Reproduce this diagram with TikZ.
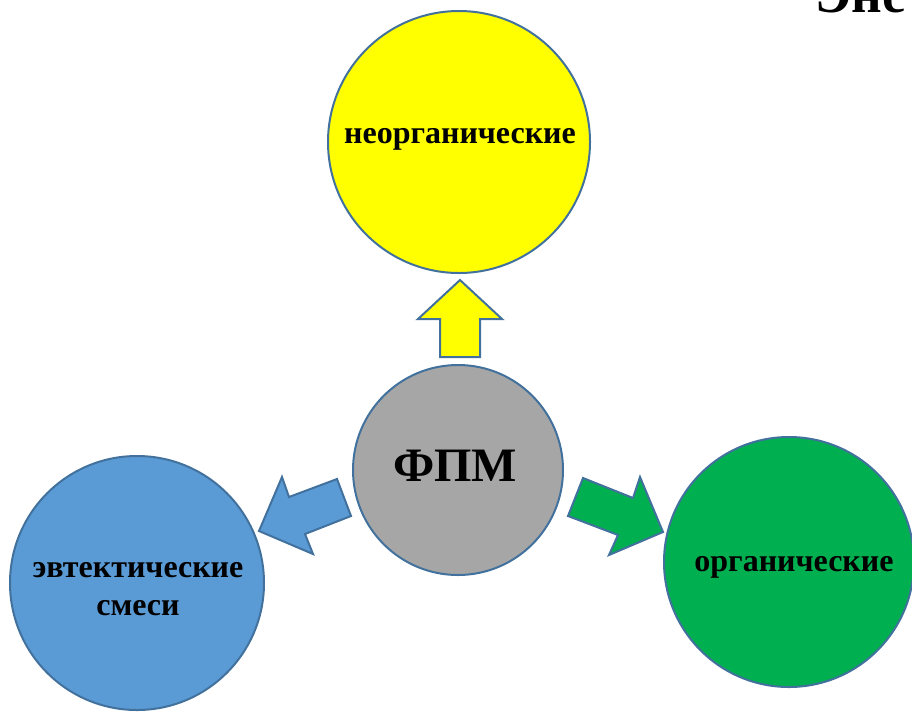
\documentclass[tikz,border=0pt]{standalone}
\usepackage{fontspec}
\setmainfont{Liberation Serif}

\tikzset{every picture/.style={line width=0.75pt}}

\begin{document}
\begin{tikzpicture}[x=0.75pt,y=0.75pt,yscale=-1,xscale=1,
    rim/.style={draw={rgb, 255:red, 65; green, 113; blue, 156 },line width=1.5pt},
    blob/.style={rim,circle,inner sep=0pt},
    lbl/.style={font=\bfseries\fontsize{24}{28.5}\selectfont,align=center,inner sep=0.75pt}]
    \useasboundingbox (0,0) rectangle (912,711);

    % Title Text (cut off at the edge)
    \node (ttl) [anchor=base west,inner sep=0pt,font=\bfseries\fontsize{40}{44}\selectfont] at (815,12) {Эне};

    %Shape: Circle
    \node (inorg) [blob,fill={rgb, 255:red, 255; green, 255; blue, 0 },minimum size=196.5pt] at (459,142) {};
    %Shape: Circle
    \node (fpm) [blob,fill={rgb, 255:red, 166; green, 166; blue, 166 },minimum size=157.5pt] at (458,470) {};
    %Shape: Circle
    \node (eut) [blob,fill={rgb, 255:red, 91; green, 155; blue, 213 },minimum size=190.5pt] at (137,583) {};
    %Shape: Circle
    \node (org) [blob,fill={rgb, 255:red, 0; green, 176; blue, 80 },minimum size=187.5pt] at (789,562) {};

    %Shape: Up Arrow
    \draw  [rim,fill={rgb, 255:red, 255; green, 255; blue, 0 }] (460,280) -- (502,319) -- (480,319) -- (480,357) -- (440,357) -- (440,319) -- (418,319) -- cycle ;
    %Shape: Left Down Arrow
    \draw  [rim,fill={rgb, 255:red, 91; green, 155; blue, 213 }] (259,531) -- (282,477) -- (289,497) -- (337,479) -- (351,516) -- (305,534) -- (313,554) -- cycle ;
    %Shape: Right Down Arrow
    \draw  [rim,fill={rgb, 255:red, 0; green, 176; blue, 80 }] (663,532) -- (609,555) -- (618,535) -- (568,516) -- (583,478) -- (633,498) -- (640,477) -- cycle ;

    % Text Node
    \node (tinorg) [lbl] at (460,139) {неорганические};
    % Text Node
    \node (tfpm) [lbl,font=\bfseries\fontsize{36}{40}\selectfont] at (455,466) {ФПМ};
    % Text Node
    \node (teut) [lbl] at (138,589) {эвтектические\\смеси};
    % Text Node
    \node (torg) [lbl] at (794,567) {органические};

\end{tikzpicture}
\end{document}
